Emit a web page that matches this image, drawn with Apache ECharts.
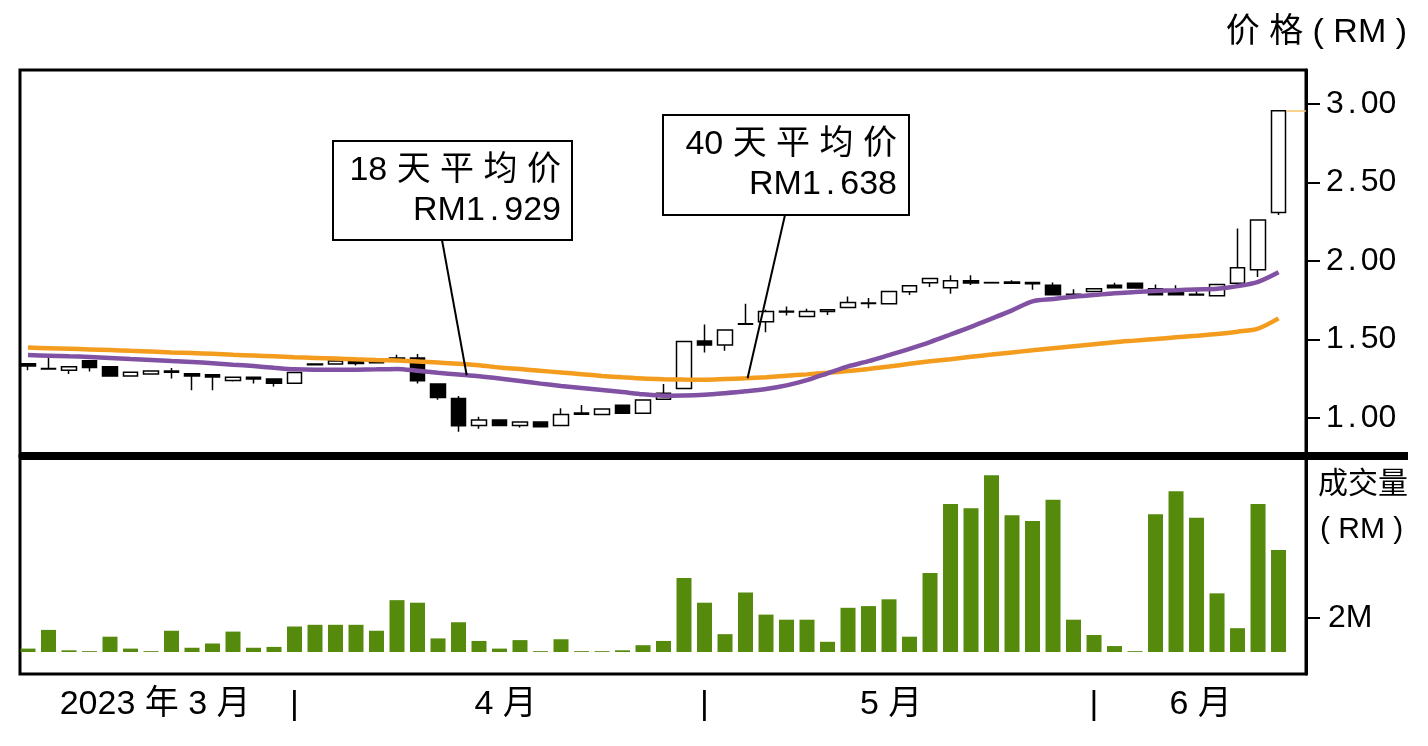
<!DOCTYPE html>
<html><head><meta charset="utf-8">
<script src="https://cdn.jsdelivr.net/npm/echarts@6/dist/echarts.min.js"></script>
<style>html,body{margin:0;padding:0;background:#fff}#c{width:1428px;height:746px}</style>
</head><body><div id="c"></div>
<script>
// ---- data ----
const opens  = [1.346,1.315,1.305,1.365,1.326,1.267,1.280,1.299,1.282,1.275,
                1.239,1.260,1.248,1.222,1.340,1.344,1.358,1.358,1.379,1.382,
                1.216,1.124,0.953,0.987,0.953,0.974,0.953,1.032,1.023,1.081,
                1.030,1.120,1.188,1.491,1.465,1.598,1.614,1.676,1.646,1.678,
                1.704,1.729,1.728,1.804,1.862,1.830,1.875,1.863,1.866,1.864,
                1.845,1.788,1.806,1.845,1.858,1.824,1.810,1.788,1.779,1.858,
                1.945,2.310];
const closes = [1.331,1.312,1.326,1.322,1.267,1.292,1.299,1.291,1.268,1.261,
                1.260,1.248,1.222,1.290,1.344,1.363,1.348,1.352,1.382,1.237,
                1.130,0.951,0.987,0.953,0.974,0.945,1.023,1.024,1.058,1.030,
                1.115,1.158,1.488,1.465,1.561,1.600,1.678,1.680,1.678,1.690,
                1.736,1.732,1.806,1.843,1.888,1.875,1.860,1.861,1.858,1.856,
                1.785,1.786,1.824,1.830,1.828,1.785,1.785,1.783,1.851,1.958,
                2.261,2.958];
const lows   = [1.305,1.310,1.280,1.296,1.267,1.267,1.280,1.251,1.177,1.177,
                1.232,1.220,1.200,1.222,1.336,1.344,1.335,1.352,1.379,1.220,
                1.117,0.912,0.932,0.953,0.940,0.945,0.953,1.024,1.023,1.030,
                1.030,1.120,1.188,1.418,1.429,1.598,1.546,1.653,1.646,1.657,
                1.704,1.700,1.728,1.783,1.834,1.792,1.847,1.861,1.858,1.817,
                1.785,1.786,1.806,1.830,1.828,1.785,1.785,1.783,1.779,1.858,
                1.898,2.293];
const highs  = [1.346,1.397,1.326,1.365,1.326,1.292,1.299,1.318,1.282,1.275,
                1.260,1.260,1.248,1.290,1.344,1.363,1.358,1.358,1.403,1.408,
                1.216,1.141,1.008,0.987,0.980,0.974,1.062,1.083,1.058,1.081,
                1.115,1.216,1.488,1.595,1.561,1.728,1.690,1.710,1.696,1.690,
                1.774,1.764,1.806,1.843,1.888,1.909,1.909,1.863,1.877,1.864,
                1.864,1.821,1.824,1.862,1.858,1.851,1.845,1.830,1.851,2.208,
                2.261,2.958];
const volumes = [0.2,1.3,0.1,0.05,0.9,0.2,0.05,1.25,0.25,0.5,
                 1.2,0.25,0.3,1.5,1.6,1.6,1.6,1.25,3.05,2.9,
                 0.8,1.75,0.65,0.2,0.7,0.05,0.75,0.05,0.05,0.1,
                 0.4,0.65,4.35,2.9,1.05,3.5,2.2,1.9,1.9,0.6,
                 2.6,2.7,3.1,0.9,4.65,8.7,8.45,10.4,8.05,7.7,
                 8.95,1.9,1.0,0.35,0.05,8.1,9.45,7.9,3.45,1.4,
                 8.7,6.0];
const ma18 = [1.401,1.397,1.393,1.389,1.383,1.376,1.370,1.363,1.357,1.349,
              1.340,1.331,1.320,1.310,1.307,1.307,1.308,1.310,1.313,1.301,
              1.288,1.277,1.266,1.252,1.236,1.219,1.204,1.191,1.178,1.165,
              1.151,1.142,1.143,1.148,1.158,1.170,1.185,1.208,1.241,1.285,
              1.329,1.362,1.401,1.441,1.484,1.532,1.581,1.633,1.686,1.743,
              1.758,1.772,1.783,1.795,1.802,1.809,1.814,1.819,1.823,1.840,
              1.868,1.929];
const ma40 = [1.449,1.445,1.441,1.437,1.433,1.428,1.423,1.418,1.414,1.409,
              1.403,1.398,1.393,1.387,1.383,1.379,1.374,1.370,1.366,1.360,
              1.353,1.346,1.336,1.322,1.312,1.301,1.290,1.279,1.268,1.259,
              1.251,1.247,1.245,1.244,1.248,1.253,1.260,1.269,1.278,1.288,
              1.299,1.312,1.328,1.345,1.361,1.375,1.390,1.404,1.418,1.431,
              1.444,1.457,1.470,1.483,1.493,1.503,1.514,1.524,1.535,1.550,
              1.570,1.635];
const priceTicks = [1.00, 1.50, 2.00, 2.50, 3.00];
const volumeTicks = [2];
const volumeTickLabels = ['2M'];
const monthLabels = ['2023 年 3 月', '|', '4 月', '|', '5 月', '|', '6 月'];
const monthLabelAt = [6.2, 13, 23.3, 33, 42.1, 52, 57.2];
const lastPrice = 2.958;
const ma18Label = ['18 天 平 均 价', 'RM1.929'];
const ma40Label = ['40 天 平 均 价', 'RM1.638'];
const priceTitle = '价 格 ( RM )';
const volumeTitle = ['成交量', '( RM )'];

// ---- chart ----
const FONT = "'Liberation Sans', 'Noto Sans CJK SC', sans-serif";
const days = opens.map((_, i) => i);
const XMIN = -0.39, XMAX = 62.34;

const chart = echarts.init(document.getElementById('c'), null, {renderer: 'canvas'});

function dotRich(s) { return s.replace('.', '{d|.}'); }

chart.setOption({
  animation: false,
  backgroundColor: '#fff',
  grid: [
    {left: 20, top: 70, width: 1286, height: 386, show: true, borderColor: '#000', borderWidth: 3, backgroundColor: 'transparent'},
    {left: 20, top: 456, width: 1286, height: 218, show: true, borderColor: '#000', borderWidth: 3, backgroundColor: 'transparent'}
  ],
  xAxis: [
    {gridIndex: 0, type: 'value', min: XMIN, max: XMAX, show: false, axisLine: {onZero: false}},
    {gridIndex: 1, type: 'value', min: XMIN, max: XMAX, position: 'bottom',
     axisLine: {show: false, onZero: false}, axisTick: {show: false}, splitLine: {show: false},
     axisLabel: {
       show: true, customValues: monthLabelAt, margin: 14, hideOverlap: false,
       color: '#000', fontSize: 34, fontFamily: FONT,
       formatter: function (v) {
         let k = 0, best = 1e9;
         monthLabelAt.forEach((p, j) => { if (Math.abs(p - v) < best) { best = Math.abs(p - v); k = j; } });
         return monthLabels[k];
       }
     }}
  ],
  yAxis: [
    {gridIndex: 0, type: 'value', position: 'right', min: 0.758, max: 3.217,
     splitLine: {show: false},
     axisLine: {show: true, onZero: false, lineStyle: {color: '#000', width: 3}},
     axisTick: {show: true, customValues: priceTicks, length: 14, lineStyle: {color: '#000', width: 2}},
     axisLabel: {show: true, customValues: priceTicks, margin: 20, color: '#000', fontSize: 32, fontFamily: FONT,
       formatter: v => dotRich(v.toFixed(2)),
       rich: {d: {fontSize: 32, fontFamily: FONT, color: '#000', padding: [0, 4]}}}},
    {gridIndex: 1, type: 'value', position: 'right', min: -1.294, max: 11.53,
     splitLine: {show: false},
     axisLine: {show: true, onZero: false, lineStyle: {color: '#000', width: 3}},
     axisTick: {show: true, customValues: volumeTicks, length: 14, lineStyle: {color: '#000', width: 2}},
     axisLabel: {show: true, customValues: volumeTicks, margin: 22, color: '#000', fontSize: 32, fontFamily: FONT,
       formatter: v => volumeTickLabels[volumeTicks.indexOf(v)] || ''}}
  ],
  series: [
    {type: 'candlestick', xAxisIndex: 0, yAxisIndex: 0, barWidth: 15,
     data: days.map(i => [i, opens[i], closes[i], lows[i], highs[i]]),
     itemStyle: {color: '#fff', color0: '#000', borderColor: '#000', borderColor0: '#000', borderWidth: 1.5},
     markLine: {silent: true, symbol: ['none', 'none'], label: {show: false},
       lineStyle: {color: '#f6c46a', width: 1.5, type: 'solid'},
       data: [[{coord: [days[days.length - 1] + 0.37, lastPrice]}, {coord: [XMAX, lastPrice]}]]}},
    {type: 'line', name: 'MA40', xAxisIndex: 0, yAxisIndex: 0, showSymbol: false, smooth: 0.3,
     data: days.map(i => [i, ma40[i]]), lineStyle: {color: '#f39c1e', width: 4.5}, z: 3},
    {type: 'line', name: 'MA18', xAxisIndex: 0, yAxisIndex: 0, showSymbol: false, smooth: 0.3,
     data: days.map(i => [i, ma18[i]]), lineStyle: {color: '#8151a3', width: 4.5}, z: 4},
    {type: 'bar', xAxisIndex: 1, yAxisIndex: 1, barWidth: 15,
     data: days.map(i => [i, volumes[i]]), itemStyle: {color: '#558a0c'}}
  ]
});

function lerp(arr, x) { const i = Math.floor(x), f = x - i; return arr[i] * (1 - f) + arr[Math.min(i + 1, arr.length - 1)] * f; }
const a18 = 21.4, a40 = 35.1;
const p18 = chart.convertToPixel({xAxisIndex: 0, yAxisIndex: 0}, [a18, lerp(ma18, a18)]);
const p40 = chart.convertToPixel({xAxisIndex: 0, yAxisIndex: 0}, [a40, lerp(ma40, a40)]);

function txt(x, y, text, size, align, rich) {
  const st = {text: text, x: 0, y: 0, font: size + 'px ' + FONT, fill: '#000', align: align, verticalAlign: 'middle'};
  if (rich) st.rich = {d: {font: size + 'px ' + FONT, fill: '#000', padding: [0, 5]}};
  return {type: 'text', x: x, y: y, z: 110, style: st};
}

chart.setOption({
  graphic: [
    {type: 'rect', z: 100, shape: {x: 20, y: 452, width: 1388, height: 8}, style: {fill: '#000'}},
    txt(1407, 33, priceTitle, 34, 'right'),
    txt(1318, 485, volumeTitle[0], 30, 'left'),
    txt(1320, 530, volumeTitle[1], 30, 'left'),
    {type: 'line', z: 105, shape: {x1: 442, y1: 240, x2: p18[0], y2: p18[1]}, style: {stroke: '#000', lineWidth: 2}},
    {type: 'rect', z: 106, shape: {x: 333, y: 141, width: 239, height: 99}, style: {fill: '#fff', stroke: '#000', lineWidth: 2}},
    txt(561, 171, ma18Label[0], 34, 'right'),
    txt(561, 211, dotRich(ma18Label[1]), 34, 'right', true),
    {type: 'line', z: 105, shape: {x1: 785, y1: 215, x2: p40[0], y2: p40[1]}, style: {stroke: '#000', lineWidth: 2}},
    {type: 'rect', z: 106, shape: {x: 663, y: 115, width: 246, height: 100}, style: {fill: '#fff', stroke: '#000', lineWidth: 2}},
    txt(897, 145, ma40Label[0], 34, 'right'),
    txt(897, 185, dotRich(ma40Label[1]), 34, 'right', true)
  ]
});
</script>
</body></html>
